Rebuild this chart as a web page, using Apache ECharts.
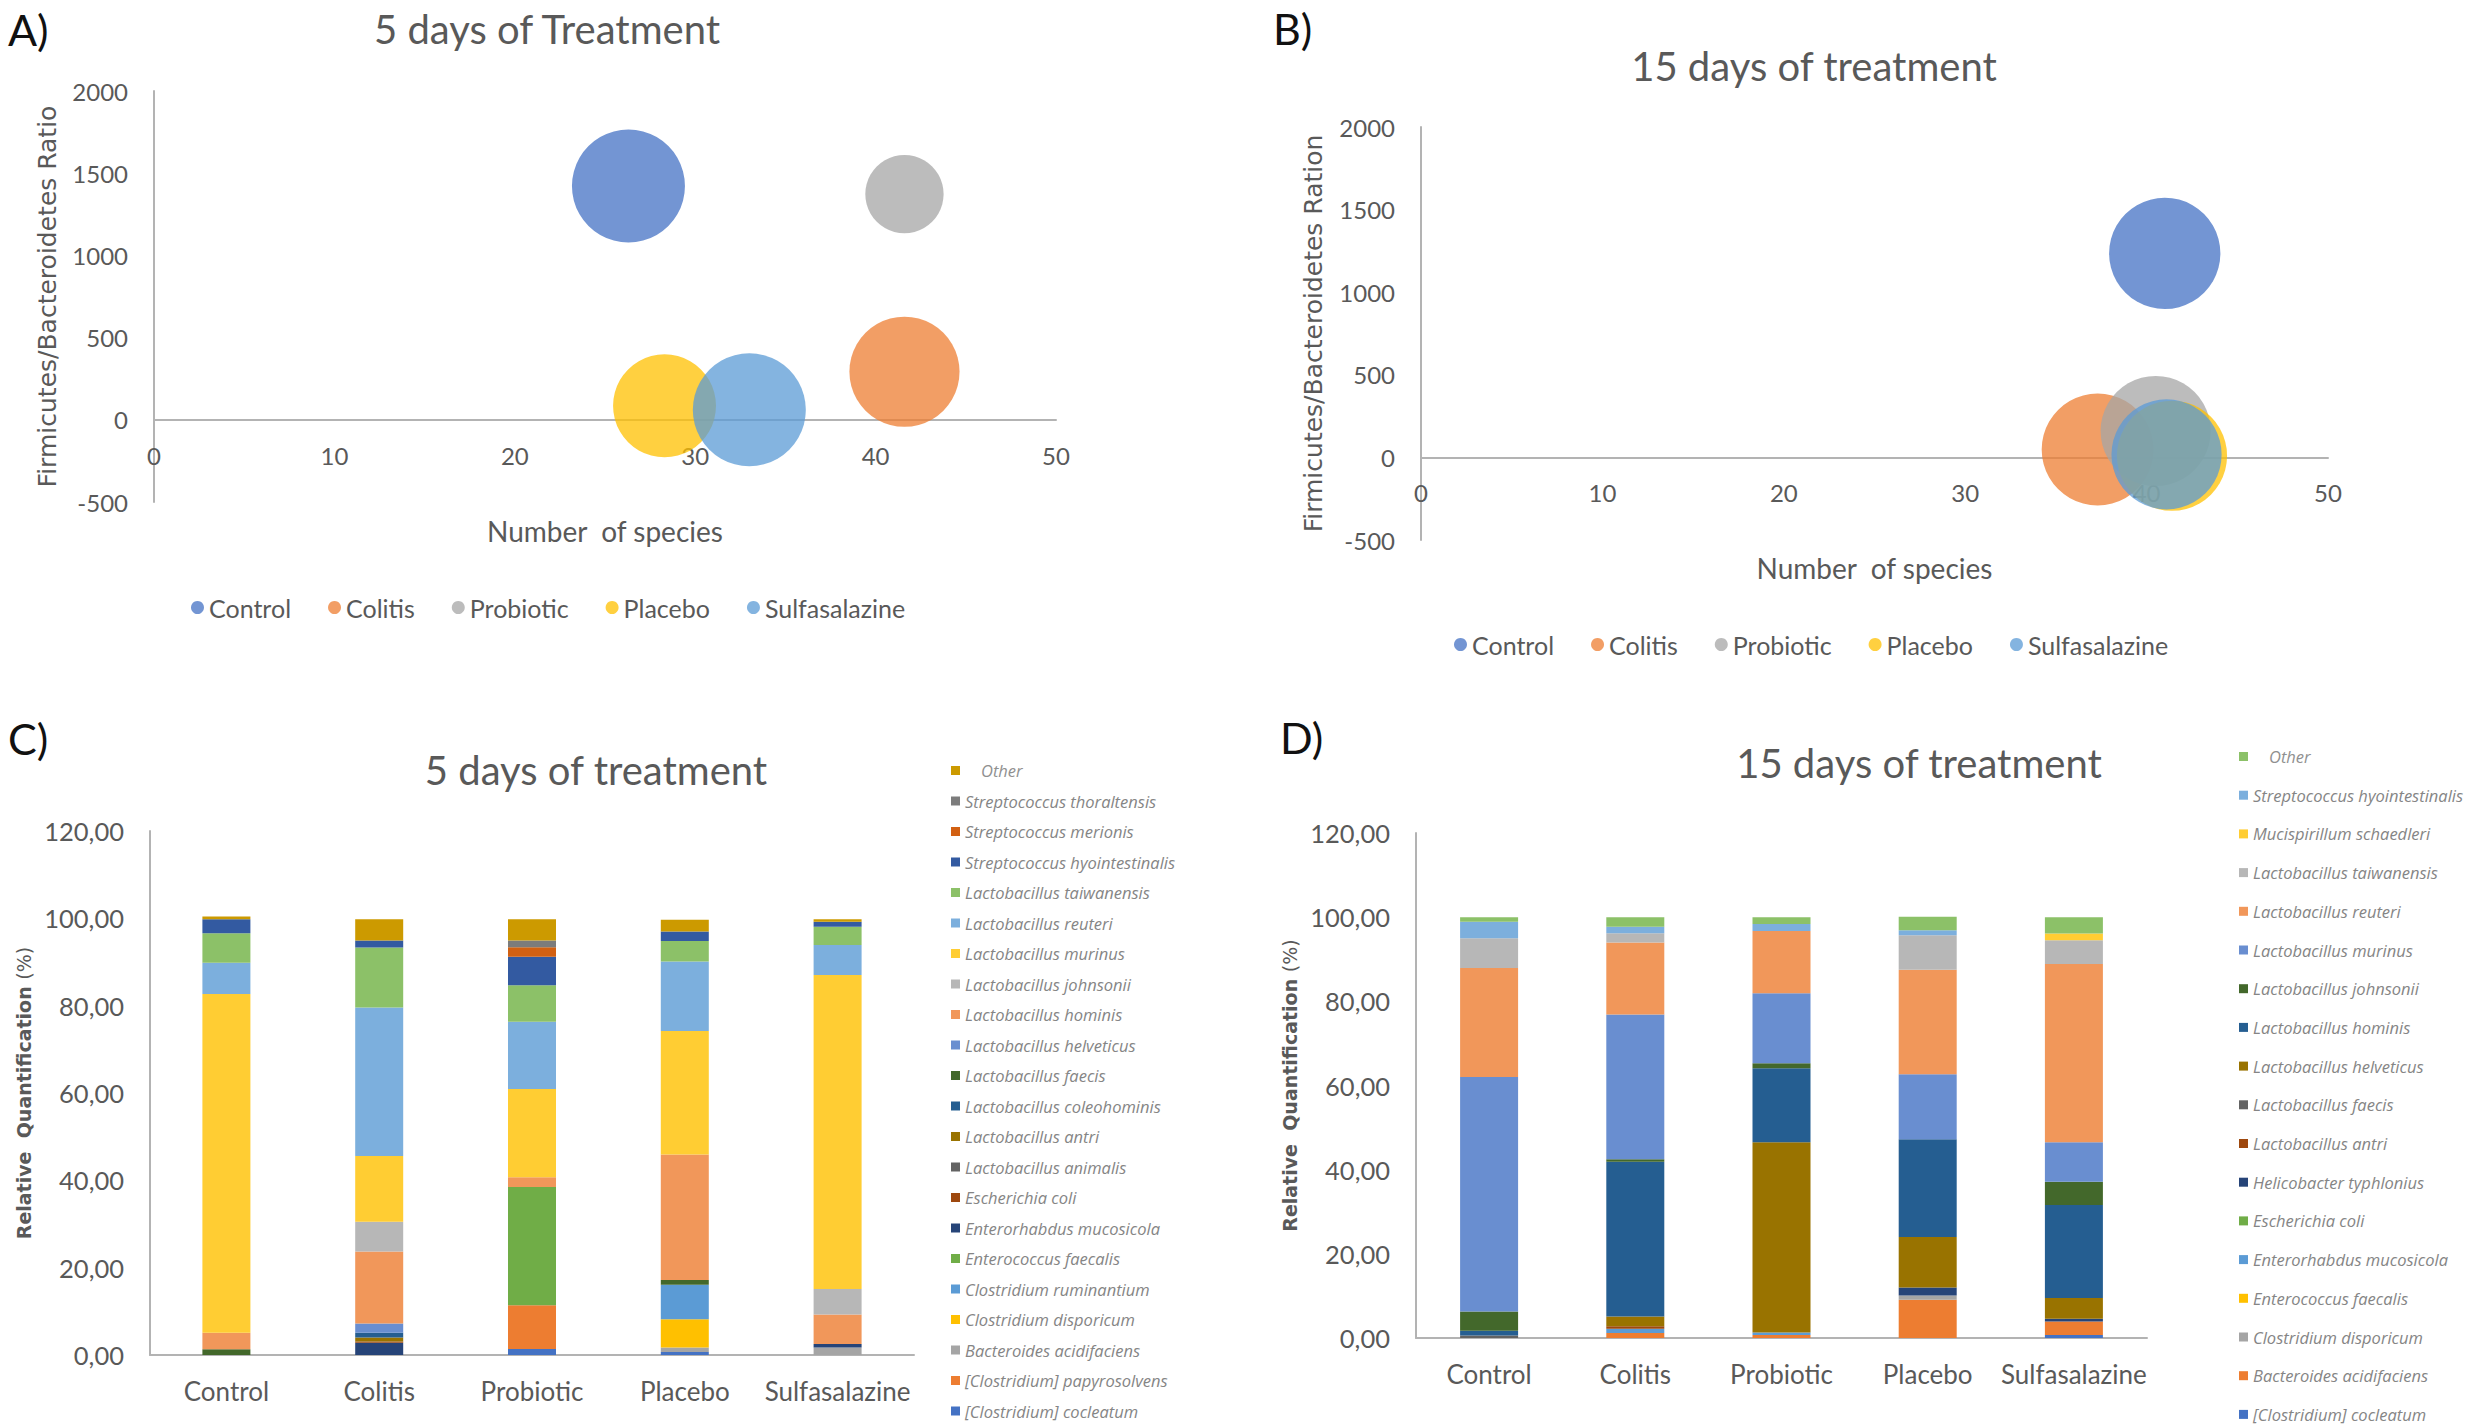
<!DOCTYPE html>
<html><head><meta charset="utf-8">
<script src="https://cdn.jsdelivr.net/npm/echarts@6/dist/echarts.min.js"></script>
<style>
html,body{margin:0;padding:0;background:#fff;}
#wrap{position:relative;width:2478px;height:1426px;background:#fff;}
.p{position:absolute;width:1239px;height:713px;}
</style></head><body>
<div id="wrap">
<div class="p" id="pa" style="left:0;top:0"></div>
<div class="p" id="pb" style="left:1239px;top:0"></div>
<div class="p" id="pc" style="left:0;top:713px"></div>
<div class="p" id="pd" style="left:1239px;top:713px"></div>
</div>
<script>
// ---------- DATA ----------
const groups = ['Control', 'Colitis', 'Probiotic', 'Placebo', 'Sulfasalazine'];

// Panel A: 5 days (bubble)
const speciesCountA = [26.3, 41.6, 41.6, 28.3, 33.0];
const fbRatioA = [1422, 292, 1373, 85, 61];
const bubbleSizeA = [100, 95, 48, 83, 100];

// Panel B: 15 days (bubble)
const speciesCountB = [41.0, 37.3, 40.5, 41.4, 41.1];
const fbRatioB = [1235, 48, 160, 10, 18];
const bubbleSizeB = [97, 98, 95, 95, 95];

const xTicksBubble = [0, 10, 20, 30, 40, 50];
const yTicksBubble = [-500, 0, 500, 1000, 1500, 2000];
const yTicksBar = [0, 20, 40, 60, 80, 100, 120];

// Panel C: 5 days, stacked bars (bottom -> top)
const speciesC = [
  '[Clostridium] cocleatum', '[Clostridium] papyrosolvens', 'Bacteroides acidifaciens',
  'Clostridium disporicum', 'Clostridium ruminantium', 'Enterococcus faecalis',
  'Enterorhabdus mucosicola', 'Escherichia coli', 'Lactobacillus animalis',
  'Lactobacillus antri', 'Lactobacillus coleohominis', 'Lactobacillus faecis',
  'Lactobacillus helveticus', 'Lactobacillus hominis', 'Lactobacillus johnsonii',
  'Lactobacillus murinus', 'Lactobacillus reuteri', 'Lactobacillus taiwanensis',
  'Streptococcus hyointestinalis', 'Streptococcus merionis', 'Streptococcus thoraltensis',
  'Other'
];
const day5Control       = [0, 0, 0, 0, 0, 0, 0, 0, 0, 0, 0, 1.3, 0, 3.8, 0, 77.6, 7.1, 6.8, 3.2, 0, 0, 0.6];
const day5Colitis       = [0, 0, 0, 0, 0, 0, 2.8, 0.3, 0, 0.9, 1.1, 0, 2.1, 16.5, 6.8, 15.1, 34.0, 13.7, 1.6, 0, 0, 4.9];
const day5Probiotic     = [1.4, 10.0, 0, 0, 0, 27.1, 0, 0, 0, 0, 0, 0, 0, 2.2, 0, 20.2, 15.4, 8.4, 6.5, 2.2, 1.5, 4.9];
const day5Placebo       = [0.7, 0, 1.0, 6.5, 7.9, 0, 0, 0, 0, 0, 0, 1.1, 0, 28.7, 0, 28.3, 15.9, 4.7, 2.2, 0, 0, 2.7];
const day5Sulfasalazine = [0, 0, 1.7, 0, 0, 0, 0.8, 0, 0, 0, 0, 0, 0, 6.8, 5.8, 71.9, 6.9, 4.2, 1.1, 0, 0, 0.6];

// Panel D: 15 days, stacked bars (bottom -> top)
const speciesD = [
  '[Clostridium] cocleatum', 'Bacteroides acidifaciens', 'Clostridium disporicum',
  'Enterococcus faecalis', 'Enterorhabdus mucosicola', 'Escherichia coli',
  'Helicobacter typhlonius', 'Lactobacillus antri', 'Lactobacillus faecis',
  'Lactobacillus helveticus', 'Lactobacillus hominis', 'Lactobacillus johnsonii',
  'Lactobacillus murinus', 'Lactobacillus reuteri', 'Lactobacillus taiwanensis',
  'Mucispirillum schaedleri', 'Streptococcus hyointestinalis', 'Other'
];
const day15Control       = [0, 0, 0, 0, 0, 0, 0, 0, 0.6, 0, 1.1, 4.6, 55.7, 25.9, 7.1, 0, 3.9, 1.1];
const day15Colitis       = [0, 1.2, 0, 0, 1.0, 0, 0, 0.6, 0, 2.3, 36.8, 0.6, 34.4, 17.1, 2.2, 0, 1.5, 2.3];
const day15Probiotic     = [0, 0.7, 0, 0, 0.6, 0, 0, 0, 0, 45.2, 17.6, 1.2, 16.6, 14.8, 0, 0, 1.7, 1.6];
const day15Placebo       = [0, 9.1, 1.0, 0, 0, 0, 1.9, 0, 0, 12.0, 23.2, 0, 15.5, 24.8, 8.2, 0, 1.2, 3.2];
const day15Sulfasalazine = [0.7, 3.2, 0, 0, 0, 0, 0.7, 0, 0, 4.9, 22.1, 5.5, 9.4, 42.4, 5.6, 1.6, 0, 3.9];

// ---------- STYLE ----------
const groupColors = ['#4472C4', '#ED7D31', '#A5A5A5', '#FFC000', '#5B9BD5'];
const paletteC = ['#4472C4', '#ED7D31', '#A5A5A5', '#FFC000', '#5B9BD5', '#70AD47',
  '#264478', '#9E480E', '#636363', '#997300', '#255E91', '#43682B',
  '#698ED0', '#F1975A', '#B7B7B7', '#FFCD33', '#7CAFDD', '#8CC168',
  '#335AA1', '#D26012', '#7C7C7C', '#CC9A00'];
const paletteD = ['#4472C4', '#ED7D31', '#A5A5A5', '#FFC000', '#5B9BD5', '#70AD47',
  '#264478', '#9E480E', '#636363', '#997300', '#255E91', '#43682B',
  '#698ED0', '#F1975A', '#B7B7B7', '#FFCD33', '#7CAFDD', '#8CC168'];
const TXT = '#595959';
const AXIS = '#b3b3b3';
const FONT = 'Lato, "Open Sans", sans-serif';
const BUBBLE_D = 113;

function txt(text, x, y, size, color, align) {
  return { type: 'text', x: x, y: y, silent: true,
    style: { text: text, fontSize: size, fontFamily: FONT, fill: color,
      align: align || 'center', verticalAlign: 'middle' } };
}

function bubbleOption(cfg) {
  return {
    animation: false,
    graphic: [
      txt(cfg.letter, cfg.letterX, cfg.letterY, 43, '#111', 'left'),
      txt(cfg.title, cfg.titleX, cfg.titleY, 40, TXT)
    ],
    grid: { left: cfg.grid[0], top: cfg.grid[1], width: cfg.grid[2], height: cfg.grid[3] },
    legend: {
      data: groups, left: cfg.legendX, top: cfg.legendY, icon: 'circle', padding: 0,
      itemWidth: 13, itemHeight: 13, itemGap: 37, selectedMode: false,
      textStyle: { fontFamily: FONT, fontSize: 25, color: TXT }
    },
    xAxis: {
      type: 'value', min: xTicksBubble[0], max: xTicksBubble[xTicksBubble.length - 1], interval: 10,
      axisLine: { show: true, onZero: true, lineStyle: { color: AXIS, width: 2 } },
      axisTick: { show: false }, splitLine: { show: false },
      axisLabel: { fontFamily: FONT, fontSize: 24, color: TXT, margin: cfg.xLabelMargin },
      name: 'Number  of species', nameLocation: 'middle', nameGap: cfg.xNameGap,
      nameTextStyle: { fontFamily: FONT, fontSize: 28, color: TXT }
    },
    yAxis: {
      type: 'value', min: yTicksBubble[0], max: yTicksBubble[yTicksBubble.length - 1], interval: 500,
      axisLine: { show: true, lineStyle: { color: AXIS, width: 2 } },
      axisTick: { show: false }, splitLine: { show: false },
      axisLabel: { fontFamily: FONT, fontSize: 24, color: TXT, margin: 26, formatter: v => String(v) },
      name: cfg.yName, nameLocation: 'middle', nameGap: cfg.yNameGap,
      nameTextStyle: { fontFamily: '"DejaVu Sans", sans-serif', fontSize: 25, color: TXT }
    },
    series: groups.map((g, i) => ({
      name: g, type: 'scatter', silent: true,
      data: [[cfg.x[i], cfg.y[i], cfg.s[i]]],
      symbolSize: d => BUBBLE_D * Math.sqrt(d[2] / 100),
      itemStyle: { color: groupColors[i], opacity: 0.75 },
      emphasis: { disabled: true }
    }))
  };
}

function barOption(cfg) {
  const cols = [cfg.vals.Control, cfg.vals.Colitis, cfg.vals.Probiotic, cfg.vals.Placebo, cfg.vals.Sulfasalazine];
  return {
    animation: false,
    graphic: [
      txt(cfg.letter, cfg.letterX, cfg.letterY, 43, '#111', 'left'),
      txt(cfg.title, cfg.titleX, cfg.titleY, 40, TXT)
    ],
    grid: { left: cfg.grid[0], top: cfg.grid[1], width: cfg.grid[2], height: cfg.grid[3] },
    legend: {
      data: cfg.species.slice().reverse(), orient: 'vertical', left: cfg.legendX, top: cfg.legendY,
      height: 713 - cfg.legendY, padding: 0,
      icon: 'rect', itemWidth: 9, itemHeight: 9, itemGap: cfg.legendGap, selectedMode: false,
      formatter: n => n === 'Other' ? '{o|Other}' : n,
      textStyle: {
        fontFamily: '"Open Sans", sans-serif', fontSize: 16.5, lineHeight: 16, fontStyle: 'italic', color: '#858585',
        rich: { o: { fontFamily: '"Open Sans", sans-serif', fontSize: 16.5, lineHeight: 16, color: '#909090', padding: [0, 0, 0, 16] } }
      }
    },
    xAxis: {
      type: 'category', data: groups,
      axisLine: { show: true, lineStyle: { color: AXIS, width: 2 } },
      axisTick: { show: false },
      axisLabel: { fontFamily: FONT, fontSize: 26, color: TXT, margin: 23, interval: 0 }
    },
    yAxis: {
      type: 'value', min: yTicksBar[0], max: yTicksBar[yTicksBar.length - 1], interval: 20,
      axisLine: { show: true, lineStyle: { color: AXIS, width: 2 } },
      axisTick: { show: false }, splitLine: { show: false },
      axisLabel: { fontFamily: FONT, fontSize: 25.5, color: TXT, margin: 26,
        formatter: v => v.toFixed(2).replace('.', ',') },
      name: '{b|Relative  Quantification}  {n|(%)}', nameLocation: 'middle', nameGap: cfg.yNameGap,
      nameTextStyle: {
        color: TXT,
        rich: {
          b: { fontFamily: '"DejaVu Sans", sans-serif', fontWeight: 'bold', fontSize: 19, color: TXT },
          n: { fontFamily: '"DejaVu Sans", sans-serif', fontSize: 19, color: TXT }
        }
      }
    },
    series: cfg.species.map((sp, i) => ({
      name: sp, type: 'bar', stack: 'total', barWidth: cfg.barWidth, silent: true,
      data: cols.map(c => c[i]),
      itemStyle: { color: cfg.palette[i] },
      emphasis: { disabled: true }
    }))
  };
}

const chA = echarts.init(document.getElementById('pa'), null, { renderer: 'svg' });
chA.setOption(bubbleOption({
  letter: 'A)', letterX: 8, letterY: 29, title: '5 days of Treatment', titleX: 547, titleY: 29,
  grid: [154, 91, 902, 411], legendX: 191, legendY: 595, xNameGap: 15, yNameGap: 94, xLabelMargin: -59,
  yName: 'Firmicutes/Bacteroidetes Ratio', x: speciesCountA, y: fbRatioA, s: bubbleSizeA
}));

const chB = echarts.init(document.getElementById('pb'), null, { renderer: 'svg' });
chB.setOption(bubbleOption({
  letter: 'B)', letterX: 34, letterY: 28, title: '15 days of treatment', titleX: 575, titleY: 66,
  grid: [182, 127, 907, 413], legendX: 215, legendY: 632, xNameGap: 14, yNameGap: 95, xLabelMargin: -60,
  yName: 'Firmicutes/Bacteroidetes Ration', x: speciesCountB, y: fbRatioB, s: bubbleSizeB
}));

const chC = echarts.init(document.getElementById('pc'), null, { renderer: 'svg' });
chC.setOption(barOption({
  letter: 'C)', letterX: 8, letterY: 25, title: '5 days of treatment', titleX: 596, titleY: 57,
  grid: [150, 118, 764, 524], legendX: 951, legendY: 49, legendGap: 13.5, yNameGap: 112, barWidth: 48,
  species: speciesC, palette: paletteC,
  vals: { Control: day5Control, Colitis: day5Colitis, Probiotic: day5Probiotic, Placebo: day5Placebo, Sulfasalazine: day5Sulfasalazine }
}));

const chD = echarts.init(document.getElementById('pd'), null, { renderer: 'svg' });
chD.setOption(barOption({
  letter: 'D)', letterX: 41, letterY: 24, title: '15 days of treatment', titleX: 680, titleY: 50,
  grid: [177, 120, 731, 505], legendX: 1000, legendY: 35, legendGap: 21.7, yNameGap: 93, barWidth: 58,
  species: speciesD, palette: paletteD,
  vals: { Control: day15Control, Colitis: day15Colitis, Probiotic: day15Probiotic, Placebo: day15Placebo, Sulfasalazine: day15Sulfasalazine }
}));
</script>
</body></html>
